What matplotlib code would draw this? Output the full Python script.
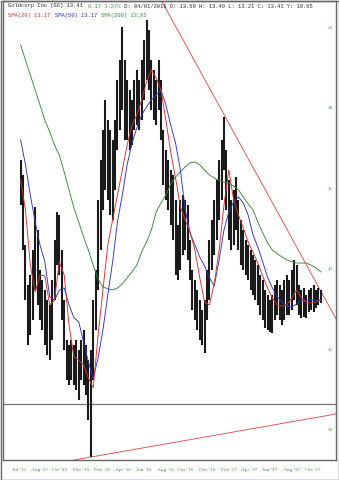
import matplotlib
matplotlib.use("Agg")
import matplotlib.pyplot as plt
import matplotlib.dates as mdates
import pandas as pd
from matplotlib.patches import Rectangle

# ---- data -----------------------------------------------------------------
week_dates = pd.date_range("2015-07-03", periods=125, freq="7D")

highs = [16.72, 16.35, 14.61, 13.61, 13.86, 14.48, 15.55, 14.98, 13.99, 13.74,
         13.49, 13.24, 13.12, 13.74, 14.73, 15.43, 15.35, 14.48, 13.24, 12.25,
         12.12, 12.25, 12.12, 12.25, 12.00, 12.25, 12.50, 12.12, 11.75, 12.00,
         13.24, 13.99, 15.73, 16.72, 17.47, 18.21, 17.71, 17.47, 17.22, 17.71,
         18.71, 19.20, 20.02, 19.20, 18.71, 18.46, 18.21, 18.71, 18.96, 18.71,
         19.20, 19.70, 20.20, 19.95, 19.20, 18.96, 18.71, 19.20, 18.71, 17.47,
         16.97, 16.72, 16.47, 16.35, 15.73, 15.11, 15.73, 15.85, 15.73, 15.60,
         14.73, 13.99, 13.74, 13.49, 13.24, 12.99, 13.24, 13.99, 14.73, 15.23,
         15.73, 16.22, 16.72, 17.22, 17.79, 16.97, 16.22, 15.73, 15.98, 16.30,
         15.73, 15.23, 14.98, 14.73, 14.61, 14.48, 14.36, 14.24, 14.11, 13.86,
         13.74, 13.49, 13.37, 13.24, 13.37, 13.61, 13.74, 13.61, 13.49, 13.74,
         13.86, 13.74, 13.99, 14.24, 14.11, 13.61, 13.49, 13.54, 13.37, 13.49,
         13.54, 13.61, 13.49, 13.54, 13.49]

lows = [15.60, 14.48, 13.24, 12.12, 12.37, 12.75, 13.49, 13.12, 12.75, 12.50,
        12.12, 11.88, 11.75, 12.25, 13.24, 14.11, 13.86, 12.75, 12.00, 11.25,
        11.13, 11.25, 11.13, 11.00, 10.76, 11.25, 11.13, 10.88, 10.26, 9.34,
        11.25, 12.50, 13.49, 14.48, 15.48, 15.98, 15.73, 15.35, 15.23, 15.98,
        16.97, 17.47, 17.96, 17.22, 17.22, 16.97, 17.09, 17.47, 17.59, 17.47,
        17.71, 18.21, 18.71, 18.46, 17.96, 17.71, 17.59, 17.96, 17.22, 16.10,
        15.73, 15.48, 15.11, 14.73, 13.86, 13.74, 13.99, 14.36, 14.48, 14.24,
        13.74, 12.99, 12.75, 12.50, 12.25, 12.12, 11.93, 12.75, 13.24, 13.99,
        14.36, 14.73, 15.23, 15.73, 16.47, 15.48, 14.73, 14.48, 14.61, 14.98,
        14.48, 14.11, 13.99, 13.86, 13.74, 13.49, 13.37, 13.24, 13.12, 12.87,
        12.75, 12.55, 12.50, 12.45, 12.42, 12.75, 12.87, 12.75, 12.62, 12.75,
        12.87, 12.87, 12.99, 13.24, 13.12, 12.87, 12.80, 12.82, 12.80, 12.95,
        12.99, 12.95, 13.05, 13.12, 13.17]

sma_dates = week_dates[::2]

sma20 = [16.22, 15.48, 14.11, 13.44, 13.86, 13.84, 13.12, 13.24, 14.19, 13.86,
         12.62, 11.83, 11.75, 11.63, 11.30, 11.06, 12.37, 13.49, 14.61, 15.23,
         15.85, 16.47, 17.09, 17.59, 17.84, 18.21, 18.66, 18.96, 18.76, 18.46,
         17.71, 16.92, 16.27, 15.55, 15.23, 14.93, 14.48, 13.79, 13.19, 13.12,
         13.66, 14.48, 15.60, 16.47, 15.73, 15.35, 15.03, 14.68, 14.43, 14.16,
         13.84, 13.54, 13.29, 13.12, 13.09, 13.12, 13.29, 13.49, 13.29, 13.19,
         13.17, 13.19, 13.24]

sma50 = [17.22, 16.60, 15.85, 15.18, 14.61, 14.19, 13.32, 13.24, 13.49, 13.54,
         13.12, 12.80, 12.70, 12.20, 11.70, 11.30, 11.80, 12.50, 13.37, 14.19,
         15.18, 15.85, 16.60, 17.14, 17.52, 17.84, 18.04, 18.21, 18.34, 18.46,
         18.09, 17.59, 17.14, 16.47, 15.48, 14.91, 14.61, 14.31, 14.09, 13.79,
         13.59, 14.24, 14.98, 15.43, 15.68, 15.80, 15.65, 15.35, 14.86, 14.56,
         14.19, 13.81, 13.54, 13.32, 13.19, 13.09, 13.07, 13.14, 13.24, 13.24,
         13.24, 13.24, 13.24]

sma200 = [19.58, 19.20, 18.83, 18.46, 18.09, 17.71, 17.42, 17.09, 16.84, 16.42,
          15.98, 15.53, 15.18, 14.81, 14.48, 14.11, 13.76, 13.57, 13.52, 13.49,
          13.54, 13.64, 13.79, 13.94, 14.11, 14.44, 14.68, 14.98, 15.43, 15.65,
          15.85, 16.12, 16.30, 16.42, 16.55, 16.65, 16.67, 16.60, 16.47, 16.35,
          16.27, 16.22, 16.17, 16.15, 16.07, 15.98, 15.80, 15.63, 15.48, 15.18,
          14.91, 14.66, 14.48, 14.39, 14.31, 14.24, 14.19, 14.16, 14.16, 14.16,
          14.11, 14.04, 13.94]

# trendline anchors (date, price)
upper_trend = [("2016-08-12", 20.70), ("2017-02-10", 17.85)]
lower_trend = [("2016-01-22", 9.34), ("2017-12-31", 10.41)]
cursor_price = 10.65

tick_dates = ["2015-06-08", "2015-08-01", "2015-10-01", "2015-12-01",
              "2016-02-01", "2016-04-01", "2016-06-01", "2016-08-01",
              "2016-10-01", "2016-12-01", "2017-02-01", "2017-04-01",
              "2017-06-01", "2017-08-01", "2017-10-01"]
tick_labels = ["Jul '15", "Aug '15", "Oct '15", "Dec '15", "Feb '16", "Apr '16",
               "Jun '16", "Aug '16", "Oct '16", "Dec '16", "Feb '17", "Apr '17",
               "Jun '17", "Aug '17", "Oct '17"]
price_ticks = [10, 12, 14, 16, 18, 20]

header_parts = [("Goldcorp Inc (GG) 13.41 ", "#333333"),
                ("0.17 1.27%", "#3d9a3d"),
                (" D: 04/01/2018 O: 13.50 H: 13.49 L: 13.21 C: 13.41 Y: 10.65", "#333333")]
legend_parts = [("SMA(20) 13.17 ", "#cc3333"),
                ("SMA(50) 13.17 ", "#3333bb"),
                ("SMA(200) 13.92", "#3a8a3a")]

# ---- figure ---------------------------------------------------------------
W, H = 339, 480
fig = plt.figure(figsize=(W / 100, H / 100), dpi=100)
fig.patch.set_facecolor("white")
ax = fig.add_axes([3 / W, 20 / H, 333 / W, 459 / H])
ax.set_facecolor("white")

xmin = mdates.date2num(pd.Timestamp("2015-05-13"))
xmax = mdates.date2num(pd.Timestamp("2017-12-31"))
ax.set_xlim(xmin, xmax)
ax.set_ylim(9.267, 20.67)

# price bars
ax.vlines(week_dates, lows, highs, color="#1a1a1a", lw=1.5, zorder=3)

# moving averages
ax.plot(sma_dates, sma200, color="#3a8a3a", lw=0.65, zorder=4)
ax.plot(sma_dates, sma50, color="#3333bb", lw=0.65, zorder=4)
ax.plot(sma_dates, sma20, color="#cc3333", lw=0.65, zorder=4)

# trendlines
for (d0, p0), (d1, p1) in (upper_trend, lower_trend):
    ax.axline((mdates.date2num(pd.Timestamp(d0)), p0),
              (mdates.date2num(pd.Timestamp(d1)), p1),
              color="#d9605a", lw=0.7, zorder=2)

# cursor line
ax.axhline(cursor_price, color="#777777", lw=0.9, zorder=1)

# axes styling
ax.set_xticks([])
ax.set_yticks([])
for s in ax.spines.values():
    s.set_color("#666666")
    s.set_linewidth(1.0)

# price labels inside the right edge
ytrans = ax.get_yaxis_transform()
for p in price_ticks:
    ax.text(0.982, p, str(p), transform=ytrans, ha="center", va="center",
            fontsize=3.6, color="#3d9a3d", family="Liberation Serif")

# month labels under the plot
xtrans = ax.get_xaxis_transform()
for d, lab in zip(tick_dates, tick_labels):
    ax.text(mdates.date2num(pd.Timestamp(d)), -0.0215, lab, transform=xtrans,
            ha="left", va="center", fontsize=3.9, color="#3d9a3d",
            family="Liberation Serif", clip_on=False)

# header lines (monospace, colored segments)
char_px = 3.33
def put_line(parts, x0, y0):
    x = x0
    for txt, col in parts:
        fig.text(x / W, 1 - y0 / H, txt, ha="left", va="center",
                 fontsize=4.0, color=col, family="Liberation Mono")
        x += len(txt) * char_px

put_line(header_parts, 8, 6)
put_line(legend_parts, 8, 15)

# outer frame
fig.patches.append(Rectangle((0.5 / W, 0.5 / H), (W - 1) / W, (H - 1) / H,
                             transform=fig.transFigure, fill=False,
                             edgecolor="#666666", lw=1.0))

fig.savefig("out.png", dpi=100)
